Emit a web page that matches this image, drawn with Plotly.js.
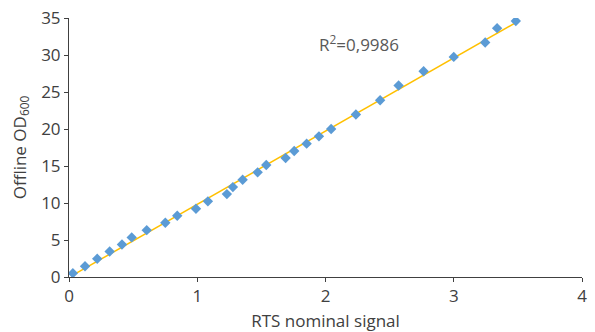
<!DOCTYPE html>
<html>
<head>
<meta charset="utf-8">
<script src="https://cdn.plot.ly/plotly-3.0.1.min.js"></script>
<style>html,body{margin:0;padding:0;background:#fff;}#chart{width:595px;height:332px;}</style>
</head>
<body>
<div id="chart"></div>
<script>
const rtsSignal = [0.03, 0.125, 0.22, 0.317, 0.413, 0.489, 0.606, 0.751, 0.844, 0.99, 1.083,
  1.231, 1.278, 1.354, 1.471, 1.538, 1.689, 1.756, 1.853, 1.949, 2.044,
  2.237, 2.426, 2.57, 2.765, 3.0, 3.245, 3.338, 3.484];
const offlineOD = [0.51, 1.46, 2.46, 3.45, 4.4, 5.35, 6.33, 7.33, 8.28, 9.23, 10.22,
  11.2, 12.15, 13.15, 14.14, 15.13, 16.08, 17.02, 18.02, 19.01, 20.0,
  21.95, 23.88, 25.87, 27.81, 29.74, 31.69, 33.63, 34.6];
const xTicks = [0, 1, 2, 3, 4];
const yTicks = [0, 5, 10, 15, 20, 25, 30, 35];
const r2Label = "R<sup>2</sup>=0,9986";

// least-squares trendline
const n = rtsSignal.length;
const mx = rtsSignal.reduce((a,b)=>a+b,0)/n;
const my = offlineOD.reduce((a,b)=>a+b,0)/n;
let sxy=0, sxx=0;
for (let i=0;i<n;i++){ sxy+=(rtsSignal[i]-mx)*(offlineOD[i]-my); sxx+=(rtsSignal[i]-mx)**2; }
const slope = sxy/sxx, icpt = my - slope*mx;
const xmin = Math.min(...rtsSignal), xmax = Math.max(...rtsSignal);
const trendX = [xmin, xmax];
const trendY = trendX.map(x => slope*x + icpt);

const font = "'Open Sans', 'Noto Sans', sans-serif";
const data = [
  {x: trendX, y: trendY, mode: 'lines', type: 'scatter',
   line: {color: '#FFC000', width: 1.5}, hoverinfo: 'skip', showlegend: false},
  {x: rtsSignal, y: offlineOD, mode: 'markers', type: 'scatter',
   marker: {symbol: 'diamond', color: '#5B9BD5', size: 8}, showlegend: false}
];
const axisCommon = {
  showgrid: false, zeroline: false, showline: true, linecolor: '#404040', linewidth: 1,
  ticks: 'outside', ticklen: 4, tickcolor: '#404040', tickwidth: 1,
  tickfont: {family: font, size: 17, color: '#404040'}
};
const layout = {
  width: 595, height: 332,
  margin: {l: 69, r: 13, t: 18, b: 55},
  paper_bgcolor: '#fff', plot_bgcolor: '#fff',
  xaxis: Object.assign({}, axisCommon, {
    range: [0, 4], tickvals: xTicks, ticktext: xTicks.map(String),
    title: {text: 'RTS nominal signal', font: {family: font, size: 17, color: '#404040'}, standoff: 10}
  }),
  yaxis: Object.assign({}, axisCommon, {
    range: [0, 35], tickvals: yTicks, ticktext: yTicks.map(String),
    title: {text: 'Offline OD<sub>600</sub>', font: {family: font, size: 17, color: '#404040'}, standoff: 10}
  }),
  annotations: [{
    x: 2.26, y: 31.6, xref: 'x', yref: 'y', text: r2Label, showarrow: false,
    font: {family: font, size: 17, color: '#595959'}
  }]
};
Plotly.newPlot('chart', data, layout, {displayModeBar: false, staticPlot: true});
</script>
</body>
</html>
